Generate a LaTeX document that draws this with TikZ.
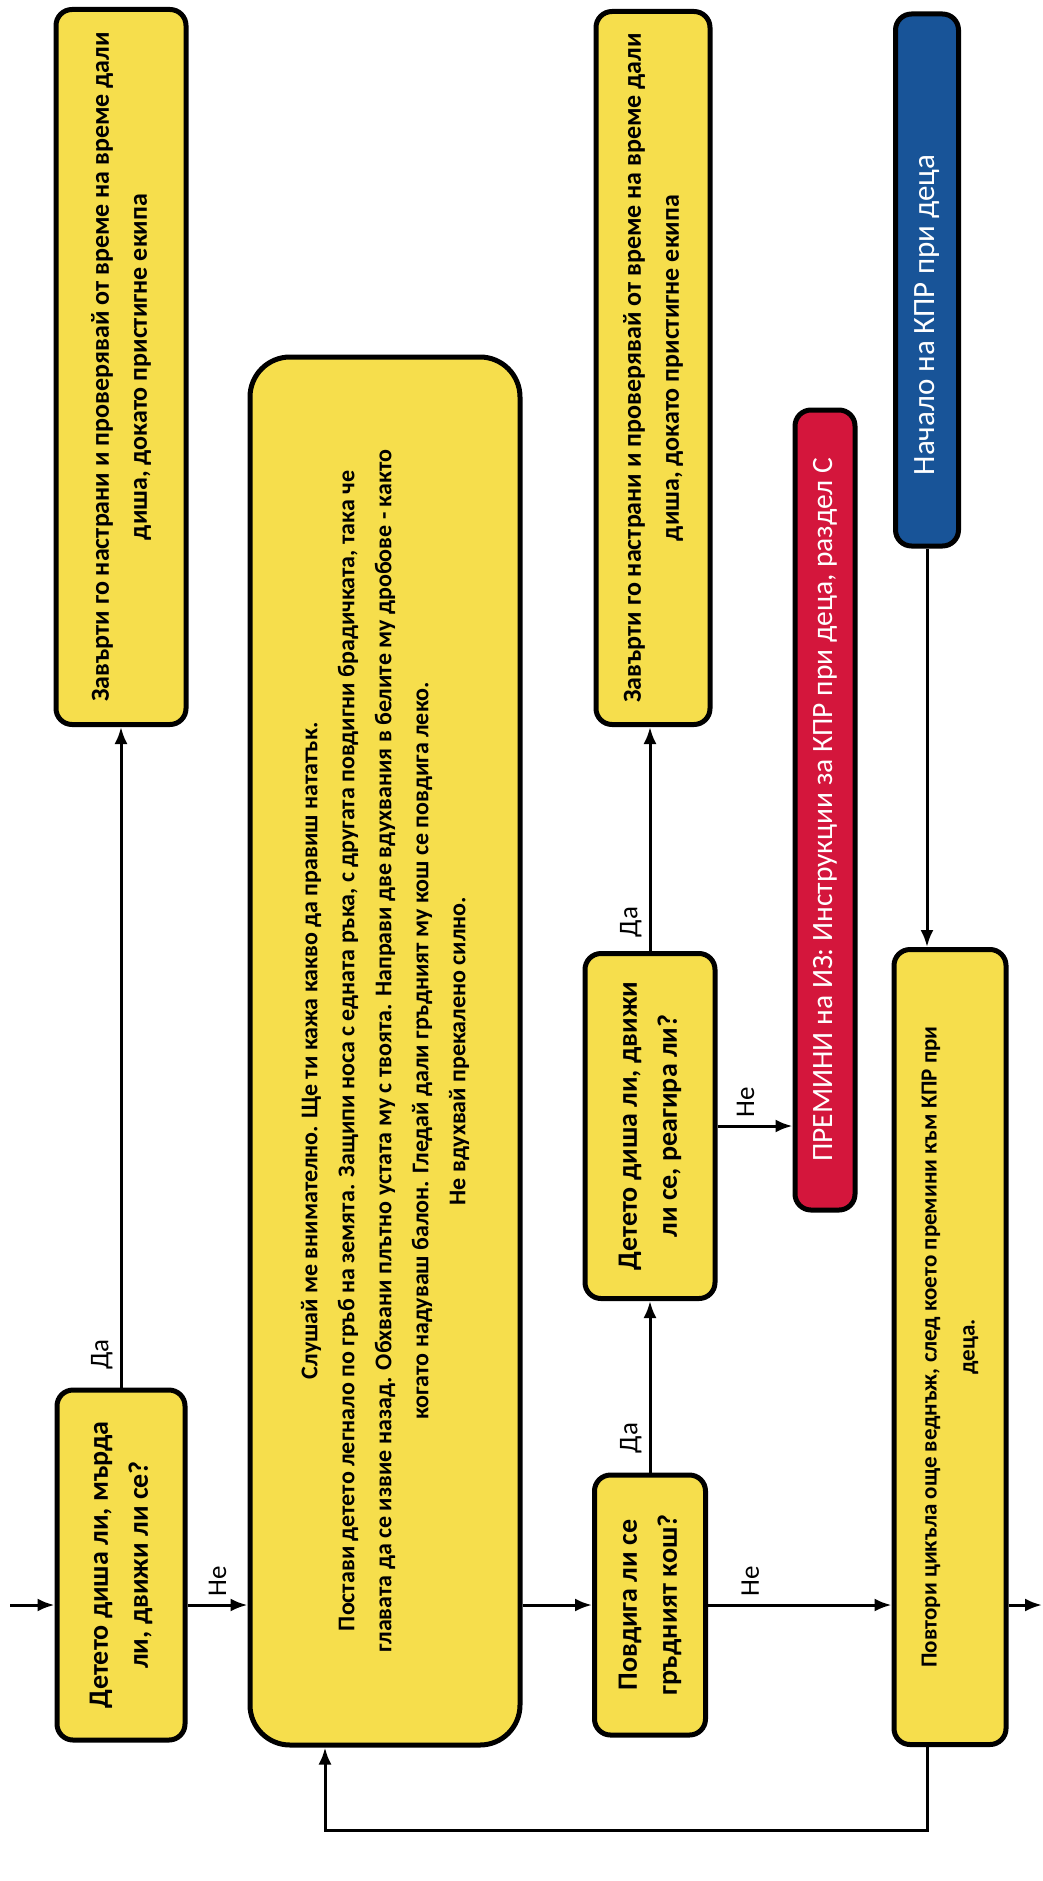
\documentclass[tikz,border=0pt]{standalone}
\usepackage{fontspec}
\setmainfont{Carlito}
\usetikzlibrary{arrows.meta}
\definecolor{boxyellow}{RGB}{246,222,76}
\definecolor{stopred}{RGB}{212,22,60}
\definecolor{startblue}{RGB}{24,84,152}
\begin{document}
\begin{tikzpicture}[x=1pt,y=-1pt]
\tikzstyle{box} = [draw=black,line width=5pt,fill=boxyellow,rounded corners=16pt,rotate=90,align=center,inner sep=0pt,font=\bfseries\fontsize{26}{38}\selectfont]
\tikzstyle{askbox} = [box,font=\bfseries\fontsize{28}{40}\selectfont]
\tikzstyle{stopbox} = [box,fill=stopred,text=white,font=\fontsize{29.5}{34}\selectfont]
\tikzstyle{startbox} = [box,fill=startblue,text=white,font=\fontsize{31}{34}\selectfont]
\tikzstyle{arr} = [line width=3pt,-{Latex[length=17pt,width=13pt]}]
\tikzstyle{lbl} = [rotate=90,font=\fontsize{27}{30}\selectfont,inner sep=7pt]
\useasboundingbox (0,0) rectangle (1042,1881);
	% boxes, rotated: width is the vertical side
	\node[box,minimum width=715pt,minimum height=130pt] (A) at (121,367) {Завърти го настрани и проверявай от време на време дали\\диша, докато пристигне екипа};
	\node[box,minimum width=713pt,minimum height=114pt] (A2) at (653,368) {Завърти го настрани и проверявай от време на време дали\\диша, докато пристигне екипа};
	\node[startbox,minimum width=532pt,minimum height=63pt] (S) at (927,280) {Начало на КПР при деца\hspace*{70pt}};
	\node[box,rounded corners=40pt,minimum width=1388pt,minimum height=270pt,font=\bfseries\fontsize{24}{37}\selectfont] (B) at (385,1051) {Слушай ме внимателно. Ще ти кажа какво да правиш нататък.\\Постави детето легнало по гръб на земята. Защипи носа с едната ръка, с другата повдигни брадичката, така че\\главата да се извие назад. Обхвани плътно устата му с твоята. Направи две вдухвания в белите му дробове - както\\когато надуваш балон. Гледай дали гръдният му кош се повдига леко.\\Не вдухвай прекалено силно.};
	\node[stopbox,minimum width=800pt,minimum height=60pt] (R) at (825,810) {ПРЕМИНИ на ИЗ: Инструкции за КПР при деца, раздел С};
	\node[askbox,minimum width=345pt,minimum height=130pt] (D) at (650,1126) {Детето диша ли, движи\\ли се, реагира ли?};
	\node[askbox,minimum width=350pt,minimum height=128pt] (C) at (121,1565) {Детето диша ли, мърда\\ли, движи ли се?};
	\node[askbox,minimum width=260pt,minimum height=111pt] (E) at (650,1605) {Повдига ли се\\гръдният кош?};
	\node[box,minimum width=795pt,minimum height=112pt,font=\bfseries\fontsize{23}{38}\selectfont] (F) at (950,1347) {Повтори цикъла още веднъж, след което премини към КПР при\\деца.};
	\coordinate (in) at (10,1605);
	\coordinate (out) at (1042,1605);
	\coordinate (lp) at (325,1830);
	% connectors
	\draw[arr] (in) -- (in -| C.north);
	\draw[arr] (in -| C.south) -- (in -| B.north) node[lbl,midway,anchor=west] (ne1) {Не};
	\draw[arr] (C) -- (A) node[lbl,pos=0.05,anchor=south] (da1) {Да};
	\draw[arr] (B.south |- E) -- (E);
	\draw[arr] (E) -- (E -| F.north) node[lbl,pos=0.23,anchor=west] (ne3) {Не};
	\draw[arr] (E -| F.south) -- (out);
	\draw[arr] (E) -- (D) node[lbl,pos=0.2,anchor=south] (da3) {Да};
	\draw[arr] (D) -- (D |- A2.west) node[lbl,pos=0.13,anchor=south] (da2) {Да};
	\draw[arr] (D) -- (D -| R.north) node[lbl,pos=0.375,anchor=west] (ne2) {Не};
	\draw[arr] (S) -- (S |- F.east);
	\draw[arr] (S |- F.west) |- (lp) -- (lp |- B.west);
\end{tikzpicture}
\end{document}
